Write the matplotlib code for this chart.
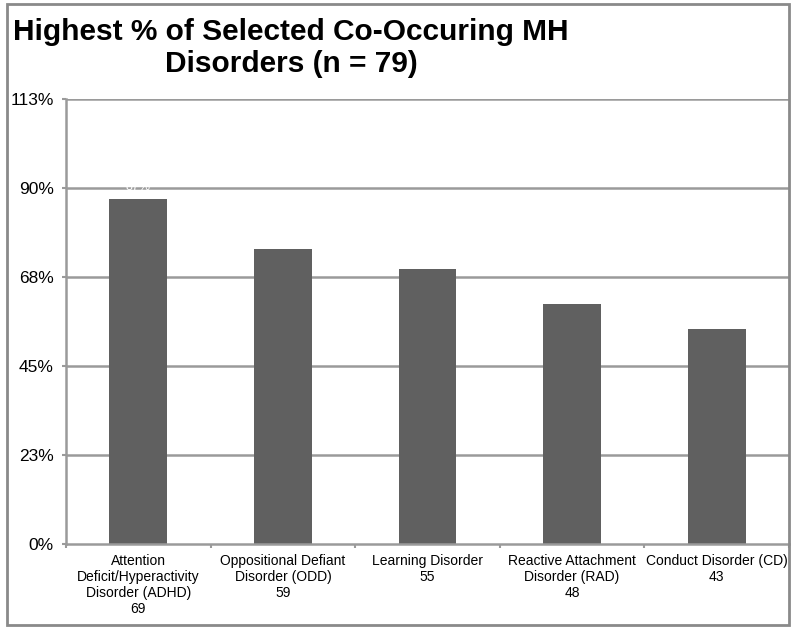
import matplotlib
matplotlib.use("Agg")
import matplotlib.pyplot as plt
from matplotlib.patches import Rectangle
import numpy as np

plt.rcParams['font.family'] = ['Liberation Sans', 'DejaVu Sans']

categories = ["Attention\nDeficit/Hyperactivity\nDisorder (ADHD)",
              "Oppositional Defiant\nDisorder (ODD)",
              "Learning Disorder",
              "Reactive Attachment\nDisorder (RAD)",
              "Conduct Disorder (CD)"]
counts = [69, 59, 55, 48, 43]
n_total = 79
percents = [c / n_total * 100 for c in counts]
yticks = [0, 22.5, 45, 67.5, 90, 112.5]
ytick_labels = ["0%", "23%", "45%", "68%", "90%", "113%"]

W, H = 798, 631
fig = plt.figure(figsize=(W / 100, H / 100), dpi=100)

ax = fig.add_axes([66 / W, 1 - 544 / H, (789 - 66) / W, (544 - 99) / H])
x = np.arange(len(categories))
grid_c = "#9a9a9a"
for yv in yticks[1:]:
    ax.axhline(yv, color=grid_c, lw=1.8, zorder=1)
ax.bar(x, percents, width=0.4, color="#606060", zorder=2)
for xi, p in zip(x, percents):
    ax.text(xi, p + 1.5, f"{p:.0f}%", ha="center", va="bottom", color="white",
            fontsize=9, zorder=3)

ax.set_xlim(-0.5, len(categories) - 0.5)
ax.set_ylim(0, 112.5)
ax.set_yticks(yticks)
ax.set_yticklabels(ytick_labels, fontsize=12.5)
ax.set_xticks(x)
ax.set_xticklabels([f"{c}\n{v}" for c, v in zip(categories, counts)],
                   fontsize=10, linespacing=1.2)
ax.tick_params(axis='x', length=0, pad=7)
ax.set_xticks(np.arange(len(categories) + 1) - 0.5, minor=True)
ax.tick_params(axis='x', which='minor', length=3, width=1.5, color=grid_c, direction='out')
ax.tick_params(axis='y', length=3, width=1.5, color=grid_c, pad=6)
for s in ["top", "right"]:
    ax.spines[s].set_visible(False)
for s in ["left", "bottom"]:
    ax.spines[s].set_color(grid_c)
    ax.spines[s].set_linewidth(1.8)
ax.set_facecolor("white")

fig.text(291 / W, 1 - 48 / H, "Highest % of Selected Co-Occuring MH\nDisorders (n = 79)",
         ha="center", va="center", fontsize=21.5, fontweight="bold", linespacing=1.2)

fig.patches.append(Rectangle((7 / W, 1 - 625 / H), (789 - 7) / W, (625 - 4) / H,
                             transform=fig.transFigure, fill=False,
                             edgecolor="#8a8a8a", lw=2, zorder=10))

fig.savefig("out.png", dpi=100)
